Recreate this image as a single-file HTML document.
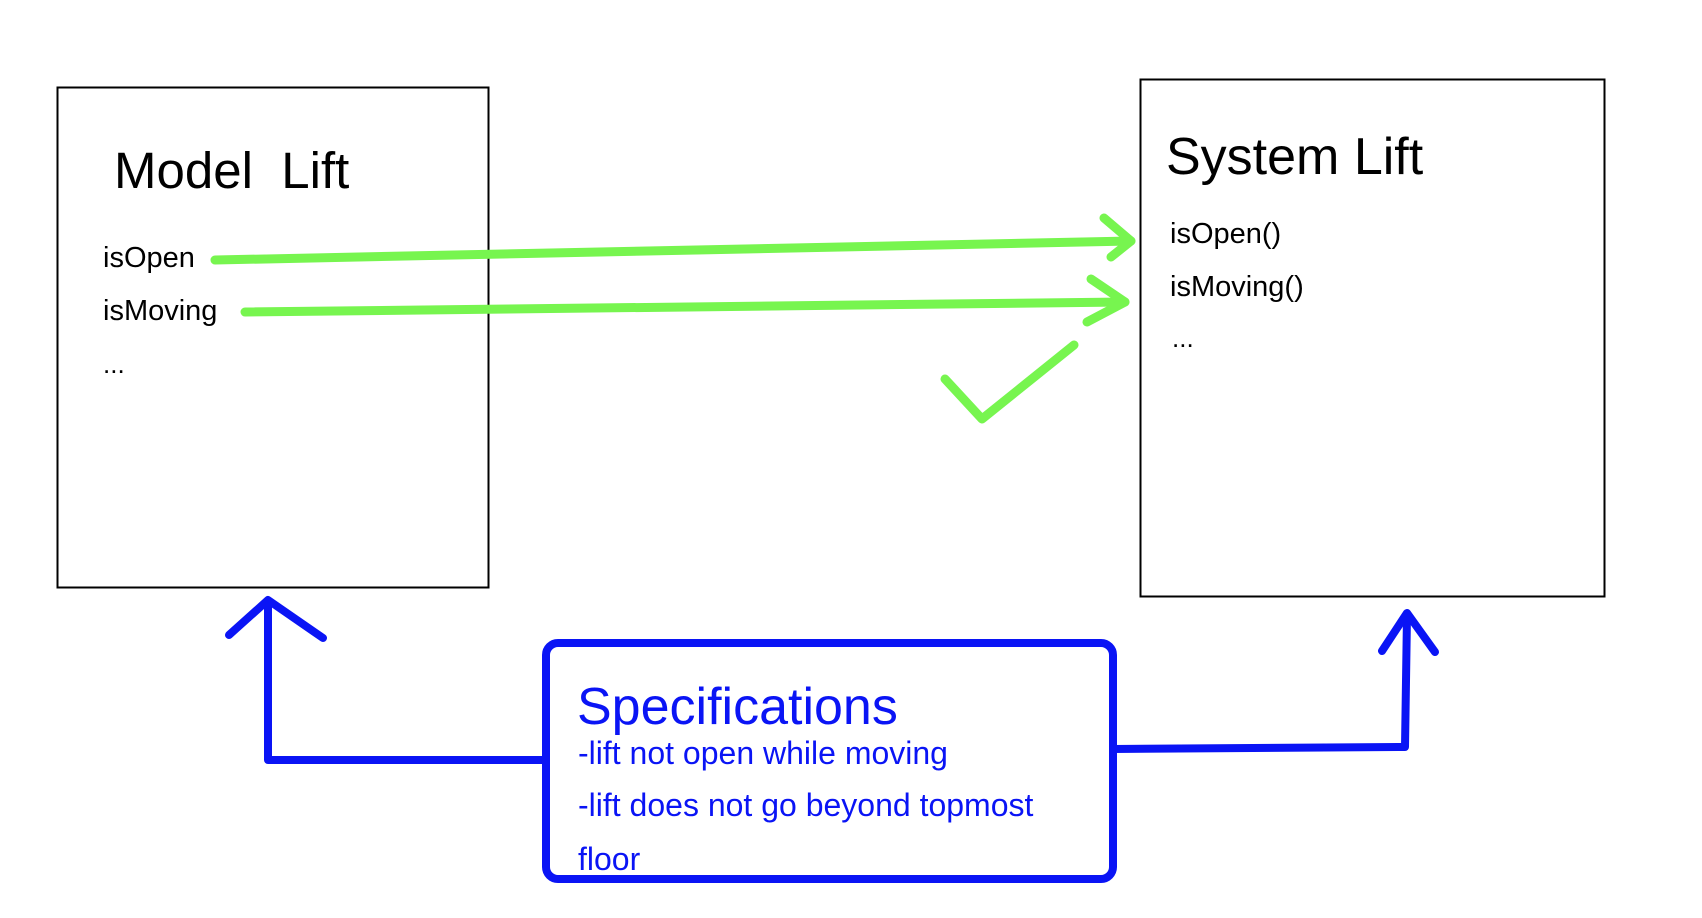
<!DOCTYPE html>
<html><head><meta charset="utf-8"><style>
html,body{margin:0;padding:0;background:#fff;width:1702px;height:918px;overflow:hidden}
svg{display:block}
text{font-family:"Liberation Sans",Arial,sans-serif}
</style></head><body>
<svg width="1702" height="918" viewBox="0 0 1702 918" xmlns="http://www.w3.org/2000/svg">
<rect x="57.5" y="87.5" width="431" height="500" fill="#fff" stroke="#000" stroke-width="2"/>
<rect x="1140.5" y="79.5" width="464" height="517" fill="#fff" stroke="#000" stroke-width="2"/>
<text x="114" y="188" font-size="51" fill="#000" xml:space="preserve">Model  Lift</text>
<text x="103" y="267" font-size="29" fill="#000">isOpen</text>
<text x="103" y="320" font-size="29" fill="#000">isMoving</text>
<text x="103" y="373" font-size="26" fill="#000">...</text>
<text x="1166" y="174" font-size="52" fill="#000">System Lift</text>
<text x="1170" y="243" font-size="29" fill="#000">isOpen()</text>
<text x="1170" y="296" font-size="29" fill="#000">isMoving()</text>
<text x="1172" y="347" font-size="26" fill="#000">...</text>
<g stroke="#77f54f" stroke-width="9" fill="none" stroke-linecap="round" stroke-linejoin="round">
<path d="M215 260 L1131 241"/>
<path d="M1104 218 L1131 241 L1111 257"/>
<path d="M245 312 L1125 302"/>
<path d="M1091 279 L1125 302 L1087 322"/>
<path d="M945 379 L982 419 L1074 345"/>
</g>
<g stroke="#0a14f5" stroke-width="8" fill="none" stroke-linejoin="round">
<rect x="546" y="643" width="567" height="236" rx="12"/>
<path d="M546 760 L268 760 L268 602"/>
<path d="M229 635 L268 600 L323 638" stroke-linecap="round"/>
<path d="M1113 749 L1405 747 L1407 615"/>
<path d="M1382 651 L1407 613 L1435 652" stroke-linecap="round"/>
</g>
<defs><clipPath id="c"><rect x="550" y="647" width="559" height="228"/></clipPath></defs>
<g fill="#0a14f5" clip-path="url(#c)">
<text x="577" y="724" font-size="52">Specifications</text>
<text x="578" y="764" font-size="32">-lift not open while moving</text>
<text x="578" y="816" font-size="32">-lift does not go beyond topmost</text>
<text x="578" y="870" font-size="32">floor</text>
</g>
</svg>
</body></html>
